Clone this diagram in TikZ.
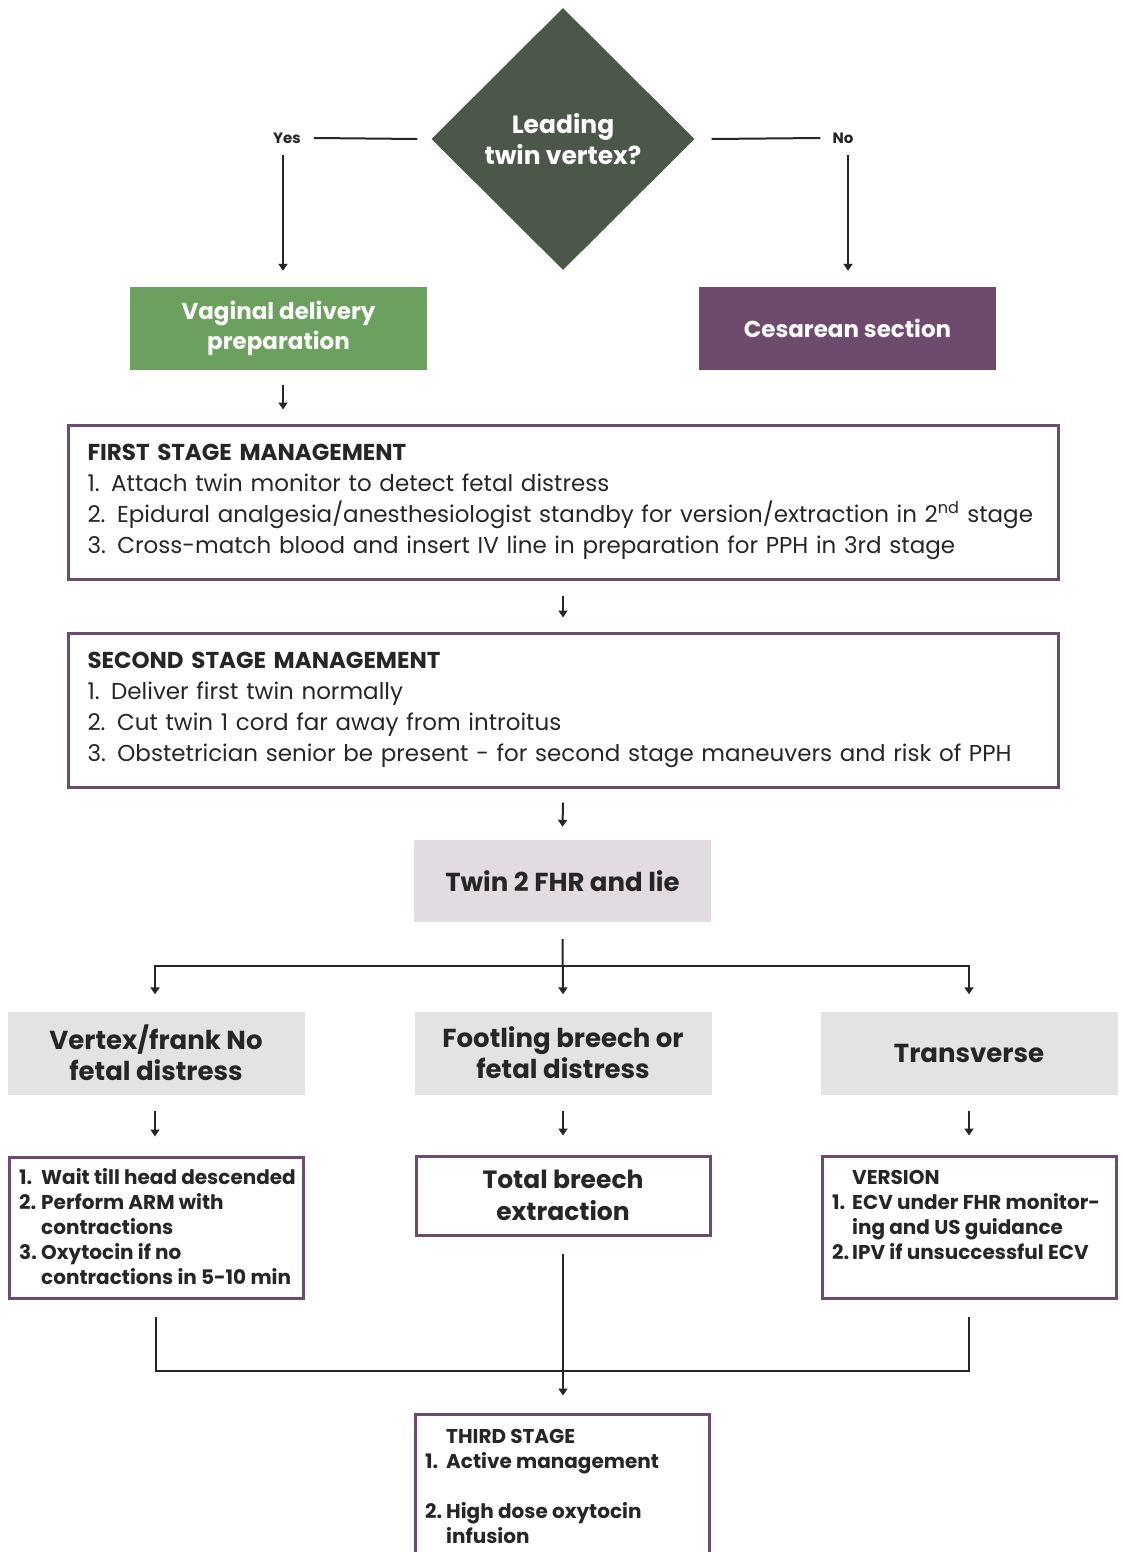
\documentclass[tikz,border=0pt]{standalone}
\usepackage{fontspec}
\setmainfont{Poppins}
\usetikzlibrary{shapes.geometric,arrows.meta}
\definecolor{dgreen}{HTML}{4B5749}
\definecolor{lgreen}{HTML}{6CA05E}
\definecolor{plum}{HTML}{6E4A6C}
\definecolor{mauve}{HTML}{E2DCE2}
\definecolor{lgray}{HTML}{E3E3E3}
\definecolor{ink}{HTML}{262626}
\newcommand{\numb}[2][22pt]{\makebox[#1][l]{#2}}
\begin{document}
\begin{tikzpicture}[x=1pt,y=-1pt,
  conn/.style={draw=ink,line width=2pt},
  arr/.style={conn,-{Triangle[length=7pt,width=9pt]}},
  solidbox/.style={rectangle,minimum width=297pt,minimum height=83pt,inner sep=0pt,align=center,
     font=\fontsize{23}{30}\selectfont\bfseries},
  graybox/.style={rectangle,fill=lgray,minimum width=297pt,minimum height=83pt,inner sep=0pt,align=center,
     text=ink,font=\fontsize{26}{31}\selectfont\bfseries},
  stagebox/.style={rectangle,draw=plum,line width=3pt,minimum width=990pt,minimum height=154pt,
     inner xsep=18.5pt,inner ysep=0pt,text width=951pt,align=left,text=ink,
     font=\fontsize{23}{31}\selectfont},
  outbox/.style={rectangle,draw=plum,line width=3pt,minimum width=294pt,inner sep=0pt},
  small/.style={inner sep=0pt,text=ink,align=left,font=\fontsize{20}{25}\selectfont\bfseries},
  lab/.style={inner sep=0pt,text=ink,font=\fontsize{15}{18}\selectfont\bfseries}
]
\useasboundingbox[fill=white] (0,0) rectangle (1122,1552);

% decision
\node[diamond,fill=dgreen,minimum width=263pt,minimum height=262pt,inner sep=0pt,text=white,
  align=center,font=\fontsize{25}{31}\selectfont\bfseries] (dia) at (563,139) {Leading\\twin vertex?};
\node[lab] (yes) at (287,138) {Yes};
\node[lab] (no) at (843,138) {No};

\node[solidbox,fill=lgreen,text=white] (vag) at (278.5,328.5) {Vaginal delivery\\preparation};
\node[solidbox,fill=plum,text=white] (ces) at (847.5,328.5) {Cesarean section};

\draw[conn] ([xshift=-14pt]dia.west) -- ([xshift=13pt]yes.east);
\draw[conn] ([xshift=17pt]dia.east) -- ([xshift=-12pt]no.west);
\draw[arr] ([xshift=-4pt,yshift=-17pt]yes.center) -- ([xshift=4.5pt,yshift=16pt]vag.north);
\draw[arr] ([xshift=5pt,yshift=-17pt]no.center) -- ([xshift=0.5pt,yshift=16pt]ces.north);

% first stage
\node[stagebox] (first) at (563,502) {\textbf{FIRST STAGE MANAGEMENT}\\
1. Attach twin monitor to detect fetal distress\\
2. Epidural analgesia/anesthesiologist standby for version/extraction in 2\textsuperscript{nd} stage\\
3. Cross-match blood and insert IV line in preparation for PPH in 3rd stage};
\draw[arr] ([xshift=4.5pt,yshift=-15pt]vag.south) -- ([xshift=4.5pt,yshift=14pt]vag.south |- first.north);

% second stage
\node[stagebox] (second) at (563,710) {\textbf{SECOND STAGE MANAGEMENT}\\
1. Deliver first twin normally\\
2. Cut twin 1 cord far away from introitus\\
3. Obstetrician senior be present - for second stage maneuvers and risk of PPH};
\draw[arr] ([yshift=-15pt]first.south) -- ([yshift=14pt]second.north);

% twin 2
\node[rectangle,fill=mauve,minimum width=297pt,minimum height=82pt,inner sep=0pt,text=ink,
  font=\fontsize{26}{30}\selectfont\bfseries] (twin) at (562.5,881) {Twin 2 FHR and lie};
\draw[arr] ([yshift=-14pt]second.south) -- ([yshift=13pt]twin.north);

% lie boxes
\node[graybox] (g1) at (156,1053) {Vertex/frank No\\fetal distress};
\node[graybox] (g2) at (563,1053) {Footling breech or\\fetal distress};
\node[graybox] (g3) at (969,1053) {Transverse};

\draw[arr] ([yshift=-17pt]twin.south) -- ([yshift=17pt]g2.north);
\draw[arr] ([yshift=-44pt]twin.south) -| ([xshift=-1pt,yshift=17pt]g1.north);
\draw[arr] ([yshift=-44pt]twin.south) -| ([yshift=17pt]g3.north);

% outcome boxes
\node[outbox,minimum height=141pt] (b1) at (156,1227.5) {};
\node[outbox,minimum height=79pt,align=center,text=ink,font=\fontsize{25}{32}\selectfont\bfseries]
  (b2) at (563,1195.5) {Total breech\\extraction};
\node[outbox,minimum height=142pt] (b3) at (969,1227) {};

\draw[arr] ([xshift=-1pt,yshift=-16pt]g1.south) -- ([xshift=-1pt,yshift=19pt]b1.north);
\draw[arr] ([yshift=-16pt]g2.south) -- ([yshift=19pt]b2.north);
\draw[arr] ([yshift=-16pt]g3.south) -- ([yshift=19pt]b3.north);

\node[small,anchor=west] (b1t) at (19,1227) {\numb{1.}Wait till head descended\\
\numb{2.}Perform ARM with\\
\numb{}contractions\\
\numb{3.}Oxytocin if no\\
\numb{}contractions in 5-10 min};

\node[small,anchor=north west] (b3t) at (832,1170) {\numb[20pt]{}VERSION\\
\numb[20pt]{1.}ECV under FHR monitor-\\
\numb[20pt]{}ing and US guidance\\
\numb[20pt]{2.}IPV if unsuccessful ECV};

% third stage
\node[outbox,minimum height=170pt] (third) at (562,1499) {};
\draw[conn] ([yshift=-17pt]b1.south) |- ([yshift=-71pt]b3.south) -- ([yshift=-17pt]b3.south);
\draw[arr] ([yshift=-17pt]b2.south) -- ([yshift=17pt]b2.south |- third.north);

\node[small,anchor=north west] (thirdt) at (425,1429) {\numb[21pt]{}THIRD STAGE\\
\numb[21pt]{1.}Active management\\[25pt]
\numb[21pt]{2.}High dose oxytocin\\
\numb[21pt]{}infusion};
\end{tikzpicture}
\end{document}
